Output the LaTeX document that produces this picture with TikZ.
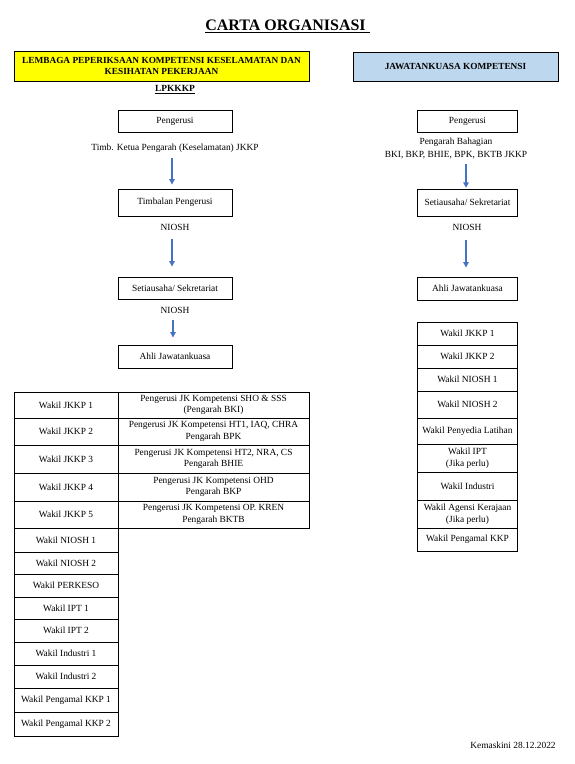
\documentclass[tikz,border=0pt]{standalone}
\usepackage{fontspec}
\setmainfont{Liberation Serif}
\usetikzlibrary{arrows.meta}
\definecolor{arrblue}{RGB}{68,114,196}
\definecolor{hdrblue}{RGB}{189,215,238}
\definecolor{hdryellow}{RGB}{255,255,0}
\begin{document}
\begin{tikzpicture}[x=1pt,y=-1pt,
  txt/.style={font=\fontsize{9.4}{11.5}\selectfont, inner sep=0pt, align=center},
  box/.style={txt, draw=black, line width=0.9pt, minimum height=22pt},
  lbox/.style={box, minimum width=114pt},
  rbox/.style={box, minimum width=100pt},
  lcell/.style={box, minimum width=104pt},
  wcell/.style={box, minimum width=191pt},
  rcell/.style={box, minimum width=100pt},
  arr/.style={draw=arrblue, line width=1.2pt, -{Triangle[width=5.5pt,length=5.5pt]}},
  hdr/.style={draw=black, line width=1pt, inner sep=0pt, align=center,
    font=\bfseries\fontsize{9.3}{11.5}\selectfont}
]
\useasboundingbox (0,0) rectangle (574,764);

% title
\node[inner sep=0pt, anchor=base, font=\bfseries\fontsize{16}{18}\selectfont] (title) at (285.5,30.7) {CARTA ORGANISASI};
\draw[line width=1pt] ([yshift=-1.8pt]title.base west) -- ([xshift=4pt,yshift=-1.8pt]title.base east);

% headers
\node[hdr, fill=hdryellow, minimum width=295pt, minimum height=30pt] (lp) at (161.5,66)
  {LEMBAGA PEPERIKSAAN KOMPETENSI KESELAMATAN DAN\\KESIHATAN PEKERJAAN};
\node[hdr, fill=hdrblue, minimum width=205pt, minimum height=29pt] (jk) at (455.5,66.5)
  {JAWATANKUASA KOMPETENSI};
\node[txt, anchor=base, font=\bfseries\fontsize{9.4}{11.5}\selectfont] (lpk) at (175,91.5) {\underline{LPKKKP}};

% left chain
\node[lbox] (lpg) at (175,121) {Pengerusi};
\node[txt] (ltimb) at (175,148) {Timb. Ketua Pengarah (Keselamatan) JKKP};
\node[lbox, minimum height=27pt] (ltp) at (175,202.5) {Timbalan Pengerusi};
\node[txt] (lnio1) at (175,227) {NIOSH};
\node[lbox] (lsu) at (175,288) {Setiausaha/ Sekretariat};
\node[txt] (lnio2) at (175,310) {NIOSH};
\node[lbox, minimum height=23pt] (lajk) at (175,356.5) {Ahli Jawatankuasa};

\coordinate (la1) at (172,158);
\coordinate (la2) at (172,239);
\coordinate (la3) at (173,320);
\draw[arr] (la1) -- ([yshift=4pt]la1 |- ltp.north);
\draw[arr] (la2) -- ([yshift=10pt]la2 |- lsu.north);
\draw[arr] (la3) -- ([yshift=7pt]la3 |- lajk.north);

% right chain
\node[rbox] (rpg) at (467.5,121) {Pengerusi};
\node[txt, font=\fontsize{9.4}{13}\selectfont] (rpb) at (456,148.5) {Pengarah Bahagian\\BKI, BKP, BHIE, BPK, BKTB JKKP};
\node[rbox, minimum height=27pt] (rsu) at (467.5,202.5) {Setiausaha/ Sekretariat};
\node[txt] (rnio) at (467,227) {NIOSH};
\node[rbox, minimum height=23pt] (rajk) at (467.5,288.5) {Ahli Jawatankuasa};

\coordinate (ra1) at (466,164);
\coordinate (ra2) at (466,240);
\draw[arr] (ra1) -- ([yshift=0.8pt]ra1 |- rsu.north);
\draw[arr] (ra2) -- ([yshift=9pt]ra2 |- rajk.north);

% right table
\node[rcell, minimum height=23pt] (r1) at (467.5,333.5) {Wakil JKKP 1};
\node[rcell, minimum height=23pt] (r2) at (467.5,356.5) {Wakil JKKP 2};
\node[rcell, minimum height=23pt] (r3) at (467.5,379.5) {Wakil NIOSH 1};
\node[rcell, minimum height=27pt] (r4) at (467.5,404.5) {Wakil NIOSH 2};
\node[rcell, minimum height=26pt] (r5) at (467.5,431) {Wakil Penyedia Latihan};
\node[rcell, minimum height=28pt, font=\fontsize{9.4}{12.5}\selectfont] (r6) at (467.5,458) {Wakil IPT\\(Jika perlu)};
\node[rcell, minimum height=28pt] (r7) at (467.5,486) {Wakil Industri};
\node[rcell, minimum height=28pt, font=\fontsize{9.4}{12.5}\selectfont] (r8) at (467.5,514) {Wakil Agensi Kerajaan\\(Jika perlu)};
\node[rcell, minimum height=23pt] (r9) at (467.5,539.5) {Wakil Pengamal KKP};

% left table
\node[lcell, minimum height=26pt] (l1) at (66,405) {Wakil JKKP 1};
\node[wcell, minimum height=26pt] (w1) at (213.5,405) {Pengerusi JK Kompetensi SHO \& SSS\\(Pengarah BKI)};
\node[lcell, minimum height=27pt] (l2) at (66,431.5) {Wakil JKKP 2};
\node[wcell, minimum height=27pt] (w2) at (213.5,431.5) {Pengerusi JK Kompetensi HT1, IAQ, CHRA\\Pengarah BPK};
\node[lcell, minimum height=28pt] (l3) at (66,459) {Wakil JKKP 3};
\node[wcell, minimum height=28pt] (w3) at (213.5,459) {Pengerusi JK Kompetensi HT2, NRA, CS\\Pengarah BHIE};
\node[lcell, minimum height=28pt] (l4) at (66,487) {Wakil JKKP 4};
\node[wcell, minimum height=28pt] (w4) at (213.5,487) {Pengerusi JK Kompetensi OHD\\Pengarah BKP};
\node[lcell, minimum height=27pt] (l5) at (66,514.5) {Wakil JKKP 5};
\node[wcell, minimum height=27pt] (w5) at (213.5,514.5) {Pengerusi JK Kompetensi OP. KREN\\Pengarah BKTB};
\node[lcell, minimum height=24pt] (l6) at (66,540) {Wakil NIOSH 1};
\node[lcell, minimum height=22pt] (l7) at (66,563) {Wakil NIOSH 2};
\node[lcell, minimum height=23pt] (l8) at (66,585.5) {Wakil PERKESO};
\node[lcell, minimum height=22pt] (l9) at (66,608) {Wakil IPT 1};
\node[lcell, minimum height=23pt] (l10) at (66,630.5) {Wakil IPT 2};
\node[lcell, minimum height=23pt] (l11) at (66,653.5) {Wakil Industri 1};
\node[lcell, minimum height=23pt] (l12) at (66,676.5) {Wakil Industri 2};
\node[lcell, minimum height=24pt] (l13) at (66,700) {Wakil Pengamal KKP 1};
\node[lcell, minimum height=24pt] (l14) at (66,724) {Wakil Pengamal KKP 2};

% footer
\node[txt, anchor=base] (upd) at (513,748) {Kemaskini 28.12.2022};
\end{tikzpicture}
\end{document}
